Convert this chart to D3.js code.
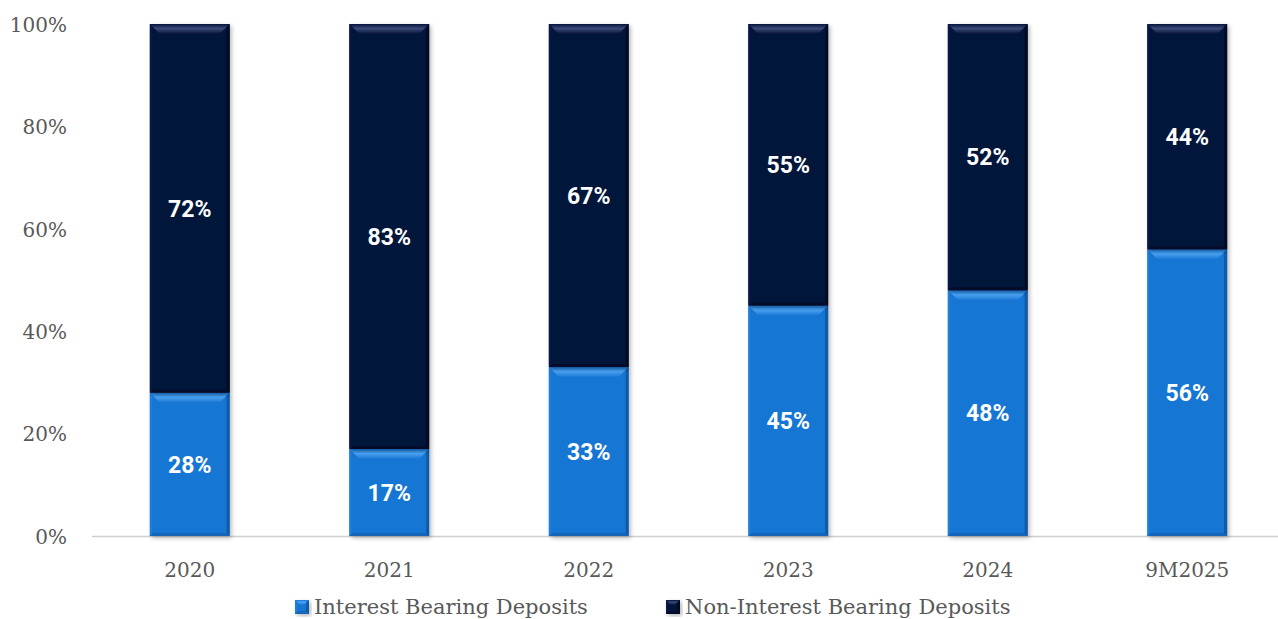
<!DOCTYPE html>
<html>
<head>
<meta charset="utf-8">
<script src="https://cdn.jsdelivr.net/npm/d3@7"></script>
<style>
  html, body { margin: 0; padding: 0; background: #ffffff; }
  svg { display: block; }
</style>
</head>
<body>
<svg id="chart" width="1278" height="619"></svg>
<script>
// Deposit mix by period (share of total deposits, %)
const categories = ["2020", "2021", "2022", "2023", "2024", "9M2025"];
const interestBearing = [28, 17, 33, 45, 48, 56];
const nonInterestBearing = [72, 83, 67, 55, 52, 44];
const yTicks = [0, 20, 40, 60, 80, 100];
const seriesNames = ["Interest Bearing Deposits", "Non-Interest Bearing Deposits"];

const W = 1278, H = 619;
const svg = d3.select("#chart");

const x = d3.scaleBand().domain(categories).range([90, 1287]).paddingInner(0.6).paddingOuter(0.3);
const y = d3.scaleLinear().domain([0, 100]).range([536, 24]);

const colors = {
  ib:  { base: "#1976d3", top: "#4aa3f2", left: "#1f80dc", right: "#105aa6", bottom: "#1565b8" },
  nib: { base: "#06123a", top: "#3a4a78", left: "#0b1845", right: "#030a22", bottom: "#040c2a" }
};

const defs = svg.append("defs");
const f = defs.append("filter").attr("id", "shadow").attr("x", "-10%").attr("y", "-10%").attr("width", "130%").attr("height", "130%");
f.append("feDropShadow").attr("dx", 2).attr("dy", 2).attr("stdDeviation", 2).attr("flood-color", "#000").attr("flood-opacity", 0.28);

// Vertical gradients for the top bevel faces
Object.entries(colors).forEach(([k, c]) => {
  const g = defs.append("linearGradient").attr("id", "top-" + k).attr("x1", 0).attr("y1", 0).attr("x2", 0).attr("y2", 1);
  g.append("stop").attr("offset", "0%").attr("stop-color", c.base);
  g.append("stop").attr("offset", "45%").attr("stop-color", c.top);
  g.append("stop").attr("offset", "100%").attr("stop-color", c.base);
});

// Build stacked segments
const stack = [];
categories.forEach((c, i) => {
  stack.push({ cat: c, key: "ib", y0: 0, y1: interestBearing[i], v: interestBearing[i] });
  stack.push({ cat: c, key: "nib", y0: interestBearing[i], y1: interestBearing[i] + nonInterestBearing[i], v: nonInterestBearing[i] });
});

// Baseline
svg.append("line")
  .attr("x1", 92).attr("x2", W).attr("y1", y(0) + 0.5).attr("y2", y(0) + 0.5)
  .attr("stroke", "#d0d0d0").attr("stroke-width", 1.5);

function drawBevelBar(g, x0, y0, w, h, col, key, bevel) {
  const b = Math.min(bevel, h / 2, w / 2);
  const x1 = x0 + w, y1 = y0 + h;
  g.append("rect").attr("x", x0).attr("y", y0).attr("width", w).attr("height", h)
    .attr("fill", col.base).attr("filter", "url(#shadow)");
  const pt = a => a.map(p => p.join(",")).join(" ");
  // top face
  g.append("polygon").attr("points", pt([[x0, y0], [x1, y0], [x1 - b, y0 + b], [x0 + b, y0 + b]])).attr("fill", "url(#top-" + key + ")");
  // left face
  g.append("polygon").attr("points", pt([[x0, y0], [x0 + 2, y0 + 2], [x0 + 2, y1 - 2], [x0, y1]])).attr("fill", col.left);
  // right face
  g.append("polygon").attr("points", pt([[x1, y0], [x1 - 3, y0 + 3], [x1 - 3, y1 - 3], [x1, y1]])).attr("fill", col.right);
  // bottom face
  g.append("polygon").attr("points", pt([[x0, y1], [x0 + 3, y1 - 3], [x1 - 3, y1 - 3], [x1, y1]])).attr("fill", col.bottom);
}

const barsG = svg.append("g");
stack.forEach(d => {
  const x0 = x(d.cat);
  const top = y(d.y1), bot = y(d.y0);
  drawBevelBar(barsG, x0, top, x.bandwidth(), bot - top, colors[d.key], d.key, 10);
});

// Value labels
svg.append("g").selectAll("text").data(stack).join("text")
  .attr("x", d => x(d.cat) + x.bandwidth() / 2)
  .attr("y", d => (y(d.y0) + y(d.y1)) / 2)
  .attr("dy", "0.36em")
  .attr("text-anchor", "middle")
  .attr("fill", "#ffffff")
  .attr("font-family", "Roboto, 'DejaVu Sans', sans-serif")
  .attr("font-weight", "bold")
  .attr("font-size", 23)
  .text(d => d.v + "%");

// Y axis labels
const yAxis = d3.axisLeft(y).tickValues(yTicks).tickFormat(d => d + "%").tickSize(0).tickPadding(0);
const yg = svg.append("g").attr("transform", "translate(67,0)").call(yAxis);
yg.select(".domain").remove();
yg.selectAll("text").attr("fill", "#595959").attr("font-size", 20)
  .attr("font-family", "'DejaVu Serif', serif").attr("dy", "0.36em");

// X axis labels
const xAxis = d3.axisBottom(x).tickSize(0).tickPadding(0);
const xg = svg.append("g").attr("transform", "translate(0,570)").call(xAxis);
xg.select(".domain").remove();
xg.selectAll("text").attr("fill", "#595959").attr("font-size", 20)
  .attr("font-family", "'DejaVu Serif', serif").attr("dy", "0.36em").attr("y", 0);

// Legend
const legendItems = [
  { name: seriesNames[0], key: "ib", x: 295 },
  { name: seriesNames[1], key: "nib", x: 666 }
];
const lg = svg.append("g");
legendItems.forEach(it => {
  const g = lg.append("g");
  drawBevelBar(g, it.x, 600, 14, 14, colors[it.key], it.key, 5);
  g.append("text").attr("x", it.x + 19).attr("y", 606).attr("dy", "0.36em")
    .attr("fill", "#595959").attr("font-size", 21)
    .attr("font-family", "'DejaVu Serif', serif")
    .text(it.name);
});
</script>
</body>
</html>
